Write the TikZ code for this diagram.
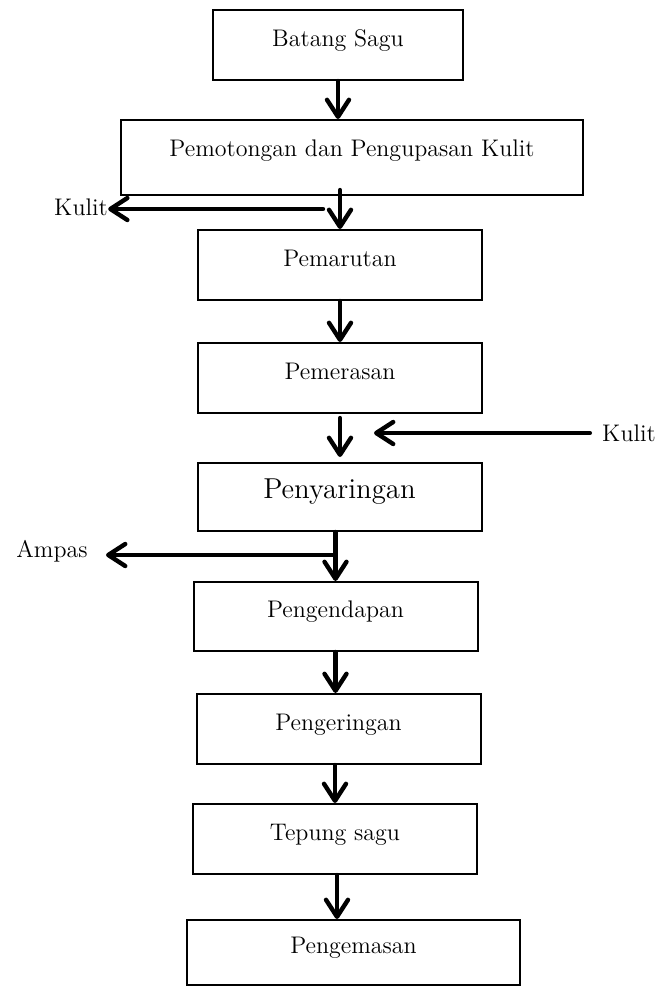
\documentclass[tikz,border=0pt]{standalone}
\usepackage{tikz}
\usetikzlibrary{arrows.meta}

\begin{document}
\begin{tikzpicture}[x=0.5pt, y=-0.5pt,
  box/.style={draw, line width=1pt, rectangle, inner sep=0pt, minimum width=142pt, minimum height=35pt,
    font=\fontsize{12pt}{14pt}\selectfont, text height=0.7em, text depth=0.6em},
  side/.style={font=\fontsize{12pt}{14pt}\selectfont, inner sep=0pt},
  flow/.style={line width=2.2pt, line cap=round, -{Straight Barb[length=8.5pt, width=11pt, round]}}]
  \useasboundingbox (0,0) rectangle (657,987);
  % process steps
  \node[box, minimum width=125pt] (batang) at (338,45) {Batang Sagu};
  \node[box, minimum width=231pt, minimum height=37.5pt, text depth=0.8em] (potong) at (352,157.5) {Pemotongan dan Pengupasan Kulit};
  \node[box] (marut) at (340,265) {Pemarutan};
  \node[box] (peras) at (340,378) {Pemerasan};
  \node[box, minimum height=34pt, font=\fontsize{14.4pt}{17pt}\selectfont] (saring) at (339.5,497) {Penyaringan};
  \node[box, minimum height=34.5pt] (endap) at (335.5,616.5) {Pengendapan};
  \node[box] (kering) at (338.5,729) {Pengeringan};
  \node[box] (tepung) at (335,839) {Tepung sagu};
  \node[box, minimum width=166.5pt, minimum height=32.5pt] (kemas) at (353.5,952.5) {Pengemasan};
  % side streams
  \node[side] (kulitA) at (81,207) {Kulit};
  \node[side] (kulitB) at (629,433) {Kulit};
  \node[side] (ampas) at (52,551) {Ampas};
  \coordinate (kulitAjoin) at (323,209);
  \coordinate (kulitBtip) at (374,433);
  \coordinate (ampasjoin) at (334,555);
  % main flow
  \draw[flow] (batang.south) -- (batang.south |- potong.north);
  \draw[flow] ([yshift=3pt]marut.north |- potong.south) -- (marut.north);
  \draw[flow] (marut.south) -- (marut.south |- peras.north);
  \draw[flow] ([yshift=-2pt]peras.south) -- ([yshift=2.5pt]peras.south |- saring.north);
  \draw[flow] (endap.north |- saring.south) -- (endap.north);
  \draw[flow] (endap.south) -- (endap.south |- kering.north);
  \draw[flow] (tepung.north |- kering.south) -- (tepung.north);
  \draw[flow] ([xshift=1pt]tepung.south) -- ([xshift=1pt]tepung.south |- kemas.north);
  % by-products and input
  \draw[flow] (kulitAjoin) -- (kulitAjoin -| kulitA.east);
  \draw[flow] ([xshift=-6pt]kulitB.west) -- (kulitBtip);
  \draw[flow] (ampasjoin) -- ([xshift=9pt]ampasjoin -| ampas.east);
\end{tikzpicture}
\end{document}
